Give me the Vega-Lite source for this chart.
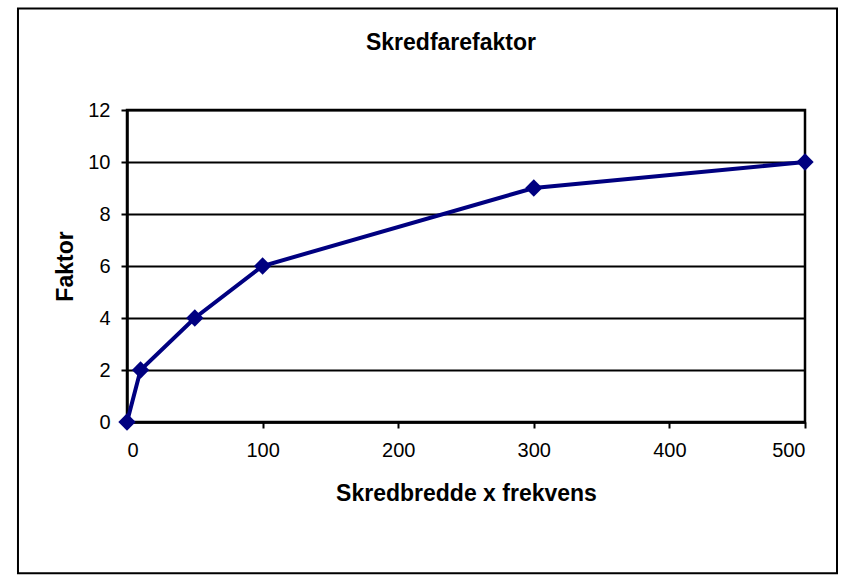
{
  "$schema": "https://vega.github.io/schema/vega-lite/v6.json",
  "autosize": "none",
  "width": 678,
  "height": 312,
  "padding": {"left": 127, "top": 110, "right": 39, "bottom": 158},
  "background": "white",
  "config": {
    "font": "Liberation Sans",
    "view": {"stroke": "black", "strokeWidth": 2.5}
  },
  "title": {
    "text": "Skredfarefaktor",
    "fontSize": 23,
    "fontWeight": "bold",
    "color": "black",
    "anchor": "middle",
    "dx": -15,
    "offset": -47
  },
  "datasets": {
    "pts": [
      {"x": 0, "y": 0},
      {"x": 10, "y": 2},
      {"x": 50, "y": 4},
      {"x": 100, "y": 6},
      {"x": 300, "y": 9},
      {"x": 500, "y": 10}
    ],
    "frame": [
      {"x1": -80.4, "x2": 523.6, "y1": -5.82, "y2": 15.9}
    ]
  },
  "layer": [
    {
      "data": {"name": "frame"},
      "mark": {"type": "rect", "fill": null, "fillOpacity": 0, "stroke": "black", "strokeWidth": 2, "clip": false},
      "encoding": {
        "x": {"field": "x1", "type": "quantitative", "scale": {"domain": [0, 500], "nice": false, "zero": false}},
        "x2": {"field": "x2"},
        "y": {"field": "y1", "type": "quantitative", "scale": {"domain": [0, 12], "nice": false, "zero": false}},
        "y2": {"field": "y2"}
      }
    },
    {
      "data": {"name": "pts"},
      "mark": {"type": "line", "color": "#000080", "strokeWidth": 4, "clip": false,
        "point": {"shape": "diamond", "filled": true, "size": 300, "color": "#000080"}},
      "encoding": {
        "x": {
          "field": "x", "type": "quantitative",
          "scale": {"domain": [0, 500], "nice": false, "zero": false},
          "axis": {
            "title": "Skredbredde x frekvens",
            "values": [0, 100, 200, 300, 400, 500],
            "grid": false,
            "domainColor": "black", "domainWidth": 2.5,
            "tickColor": "black", "tickSize": 6, "tickWidth": 2,
            "labelFontSize": 20, "labelColor": "black", "labelPadding": 12,
            "titleFontSize": 23, "titleFontWeight": "bold", "titleColor": "black", "titlePadding": 22
          }
        },
        "y": {
          "field": "y", "type": "quantitative",
          "scale": {"domain": [0, 12], "nice": false, "zero": false},
          "axis": {
            "title": "Faktor",
            "values": [0, 2, 4, 6, 8, 10, 12],
            "grid": true, "gridColor": "black", "gridWidth": 2, "gridOpacity": 1,
            "domainColor": "black", "domainWidth": 2.5,
            "tickColor": "black", "tickSize": 6, "tickWidth": 2,
            "labelFontSize": 20, "labelColor": "black", "labelPadding": 11,
            "titleFontSize": 23, "titleFontWeight": "bold", "titleColor": "black", "titlePadding": 10
          }
        }
      }
    }
  ]
}
